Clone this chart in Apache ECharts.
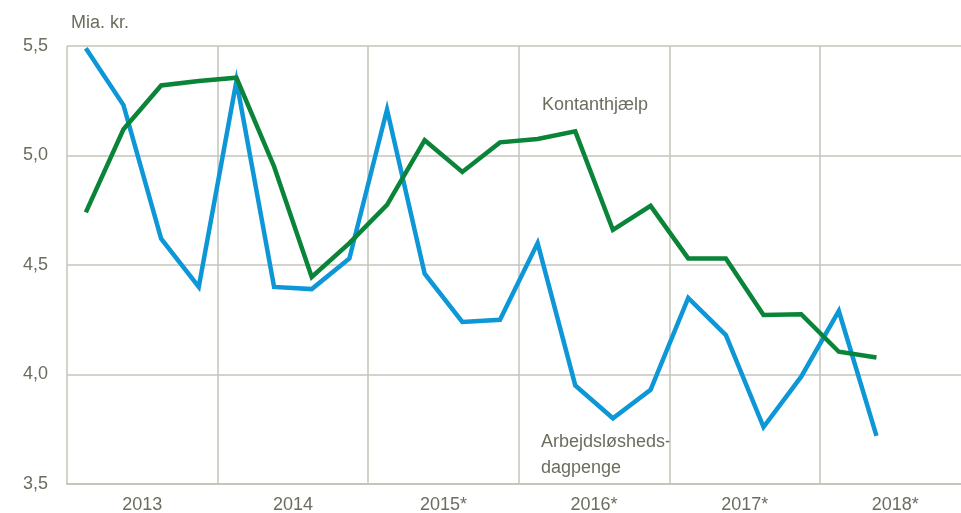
<!DOCTYPE html>
<html>
<head>
<meta charset="utf-8">
<script src="https://cdn.jsdelivr.net/npm/echarts@6/dist/echarts.min.js"></script>
<style>
  html, body { margin: 0; padding: 0; background: #fff; }
  #chart { width: 961px; height: 513px; }
</style>
</head>
<body>
<div id="chart"></div>
<script>
// kvartaler 2013K1 - 2018K2
const quarters = [
  "2013K1", "2013K2", "2013K3", "2013K4",
  "2014K1", "2014K2", "2014K3", "2014K4",
  "2015K1", "2015K2", "2015K3", "2015K4",
  "2016K1", "2016K2", "2016K3", "2016K4",
  "2017K1", "2017K2", "2017K3", "2017K4",
  "2018K1", "2018K2"
];
const yearLabels = ["2013", "2014", "2015*", "2016*", "2017*", "2018*"];

// mia. kr.
const dagpenge = [
  5.49, 5.23, 4.62, 4.40,
  5.34, 4.40, 4.39, 4.53,
  5.21, 4.46, 4.24, 4.25,
  4.60, 3.95, 3.80, 3.93,
  4.35, 4.18, 3.76, 3.99,
  4.29, 3.72
];
const kontanthjaelp = [
  4.74, 5.12, 5.32, 5.34,
  5.355, 4.95, 4.445, 4.60,
  4.775, 5.07, 4.925, 5.06,
  5.075, 5.11, 4.66, 4.77,
  4.53, 4.53, 4.272, 4.275,
  4.104, 4.078
];

const yTicks = [3.5, 4.0, 4.5, 5.0, 5.5];

const textColor = "#6c6c5f";
const gridColor = "#c6c4ba";
const font = "Liberation Sans, Arial, sans-serif";
const quarterWidth = 37.65;
const xMax = 23.88;

const chart = echarts.init(document.getElementById("chart"));

const toPoints = (values) => values.map((v, i) => [i + 0.5, v]);

chart.setOption({
  animation: false,
  backgroundColor: "#ffffff",
  grid: {
    left: 67,
    width: quarterWidth * xMax,
    top: 46,
    bottom: 29,
    containLabel: false,
    outerBoundsMode: "none",
  },
  xAxis: [
    {
      // year labels, one in the middle of each year
      type: "value",
      min: 0,
      max: xMax,
      interval: 2,
      axisLine: { show: true, lineStyle: { color: gridColor, width: 2 } },
      axisTick: { show: false },
      splitLine: { show: false },
      axisLabel: {
        color: textColor,
        fontFamily: font,
        fontSize: 18,
        margin: 12,
        showMaxLabel: false,
        formatter: (v) => (v % 4 === 2 ? yearLabels[(v - 2) / 4] || "" : ""),
      },
    },
    {
      // vertical gridlines at year boundaries
      type: "value",
      min: 0,
      max: xMax,
      interval: 4,
      position: "bottom",
      axisLine: { show: false },
      axisTick: { show: false },
      axisLabel: { show: false },
      splitLine: { show: true, lineStyle: { color: gridColor, width: 1.5 } },
    },
  ],
  yAxis: {
    type: "value",
    min: yTicks[0],
    max: yTicks[yTicks.length - 1],
    interval: 0.5,
    axisLine: { show: false },
    axisTick: { show: false },
    splitLine: { show: true, lineStyle: { color: gridColor, width: 1.5 } },
    axisLabel: {
      color: textColor,
      fontFamily: font,
      fontSize: 18,
      margin: 19,
      formatter: (v) => v.toFixed(1).replace(".", ","),
    },
  },
  series: [
    {
      name: "Arbejdsløshedsdagpenge",
      type: "line",
      xAxisIndex: 0,
      data: toPoints(dagpenge),
      symbol: "none",
      lineStyle: { color: "#0e97d6", width: 4.5, join: "miter" },
      z: 3,
    },
    {
      name: "Kontanthjælp",
      type: "line",
      xAxisIndex: 0,
      data: toPoints(kontanthjaelp),
      symbol: "none",
      lineStyle: { color: "#0a8438", width: 4.5, join: "miter" },
      z: 4,
    },
  ],
  graphic: [
    {
      type: "text",
      left: 71,
      top: 14,
      style: { text: "Mia. kr.", fill: textColor, font: "18px " + font },
    },
    {
      type: "text",
      left: 542,
      top: 96,
      style: { text: "Kontanthjælp", fill: textColor, font: "18px " + font },
    },
    {
      type: "text",
      left: 541,
      top: 429,
      style: {
        text: "Arbejdsløsheds-\ndagpenge",
        fill: textColor,
        font: "18px " + font,
        lineHeight: 26,
      },
    },
  ],
});
</script>
</body>
</html>
